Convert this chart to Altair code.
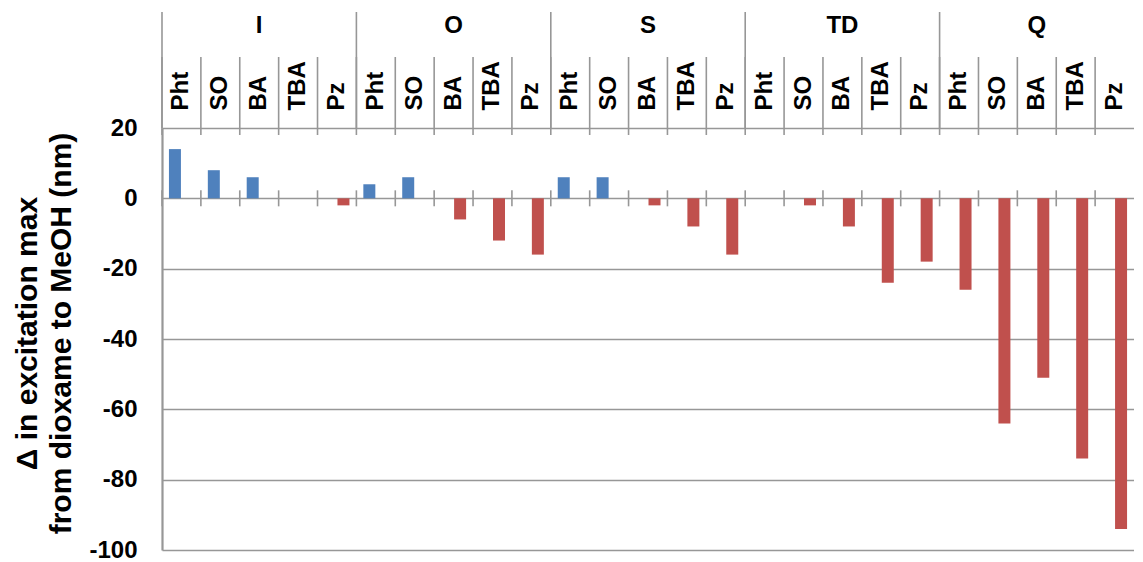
import altair as alt
import pandas as pd

groups = ["I", "O", "S", "TD", "Q"]
subs = ["Pht", "SO", "BA", "TBA", "Pz"]
vals_I = [14, 8, 6, 0, -2]
vals_O = [4, 6, -6, -12, -16]
vals_S = [6, 6, -2, -8, -16]
vals_TD = [0, -2, -8, -24, -18]
vals_Q = [-26, -64, -51, -74, -94]
y_ticks = [20, 0, -20, -40, -60, -80, -100]
y_title = ["Δ in excitation max", "from dioxame to MeOH (nm)"]

series = [vals_I, vals_O, vals_S, vals_TD, vals_Q]
rows = []
for g, vals in zip(groups, series):
    for s, v in zip(subs, vals):
        rows.append({"key": f"{g}|{s}", "group": g, "sub": s, "value": v,
                     "sign": "pos" if v > 0 else "neg"})
df = pd.DataFrame(rows)
keys = list(df["key"])

FONT = "Liberation Sans"
GRID = "#979797"
xscale = alt.Scale(domain=keys, paddingInner=0, paddingOuter=0)

base = alt.Chart(df)

xaxis = alt.Axis(orient="top", title=None, labelExpr="split(datum.value, '|')[1]",
                 labelAngle=270, labelAlign="left", labelBaseline="middle",
                 labelPadding=18, ticks=False, domain=False, grid=False,
                 labelFontSize=24, labelFontWeight="bold", labelColor="black",
                 labelFont=FONT, labelOverlap=False, labelBound=False)
yaxis = alt.Axis(values=y_ticks, grid=True, gridColor=GRID, gridWidth=1.6,
                 domain=True, domainColor=GRID, domainWidth=2.2, ticks=False,
                 labelExpr="datum.value + ''",
                 labelPadding=25, labelFontSize=24, labelFontWeight="bold",
                 labelColor="black", labelFont=FONT,
                 title=y_title, titleFontSize=30, titleFontWeight="bold",
                 titleColor="black", titleFont=FONT, titleAngle=270,
                 titleAlign="center", titleBaseline="top", titleLineHeight=34,
                 titleX=-150, titleY=205)

bars = base.transform_filter("datum.value != 0").mark_bar().encode(
    x=alt.X("key:N", scale=xscale, sort=keys, axis=xaxis),
    xOffset=alt.XOffset("sign:N", scale=alt.Scale(domain=["pos", "neg"], paddingInner=0.077,
                                                  paddingOuter=0.534)),
    y=alt.Y("value:Q", scale=alt.Scale(domain=[-100, 20], nice=False, zero=False), axis=yaxis),
    color=alt.Color("sign:N", scale=alt.Scale(domain=["pos", "neg"],
                                              range=["#4F81BD", "#C0504D"]), legend=None),
)

sub_sep = base.mark_rule(color=GRID, strokeWidth=1.6).encode(
    x=alt.X("key:N", scale=xscale, sort=keys, bandPosition=0, axis=xaxis),
    y=alt.value(-71), y2=alt.value(7),
)

grp_sep = base.transform_filter("datum.sub == 'Pht'").mark_rule(color=GRID, strokeWidth=1.6).encode(
    x=alt.X("key:N", scale=xscale, sort=keys, bandPosition=0, axis=xaxis),
    y=alt.value(-116), y2=alt.value(0),
)

zero_ticks = base.mark_rule(color=GRID, strokeWidth=1.6, yOffset=-8, y2Offset=8).encode(
    x=alt.X("key:N", scale=xscale, sort=keys, bandPosition=0, axis=xaxis),
    y=alt.YDatum(0, axis=yaxis), y2=alt.Y2Datum(0),
)

grp_lbl = base.transform_filter("datum.sub == 'BA'").mark_text(
    fontSize=24, fontWeight="bold", font=FONT, color="black", baseline="middle", align="center"
).encode(
    x=alt.X("key:N", scale=xscale, sort=keys, axis=xaxis),
    y=alt.value(-102),
    text="group:N",
)

chart = alt.layer(bars, sub_sep, grp_sep, zero_ticks, grp_lbl).properties(
    width=972, height=422,
    autosize=alt.AutoSizeParams(type="none"),
    padding={"left": 154, "top": 120, "right": 0, "bottom": 14},
).configure_view(stroke=None)

chart.save("out.html", embed_options={"renderer": "svg", "actions": False})
